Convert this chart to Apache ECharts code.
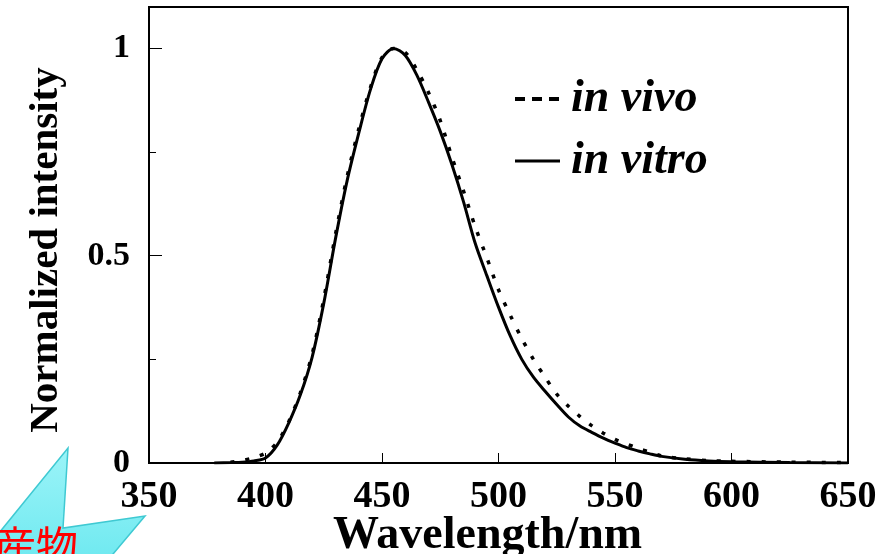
<!DOCTYPE html>
<html>
<head>
<meta charset="utf-8">
<title>Normalized intensity</title>
<script src="https://cdn.jsdelivr.net/npm/echarts@6/dist/echarts.min.js"></script>
<style>
  html, body { margin: 0; padding: 0; background: #fff; }
  #chart { width: 892px; height: 554px; }
</style>
</head>
<body>
<div id="chart"></div>
<script>
// 波长 (nm)
const wavelength = [378, 385, 390, 395, 400, 405, 410, 415, 420, 425, 430, 435, 440, 445, 450, 455, 460, 465, 470, 475, 480, 485, 490, 495, 500, 505, 510, 515, 520, 525, 530, 535, 540, 545, 550, 555, 560, 565, 570, 580, 590, 600, 625, 650]
// in vitro (实线)
const inVitro = [0, 0.001, 0.002, 0.005, 0.012, 0.043, 0.097, 0.165, 0.255, 0.385, 0.54, 0.68, 0.795, 0.9, 0.975, 1.0, 0.983, 0.935, 0.87, 0.8, 0.72, 0.63, 0.53, 0.452, 0.376, 0.307, 0.25, 0.207, 0.173, 0.141, 0.111, 0.089, 0.074, 0.06, 0.048, 0.037, 0.029, 0.022, 0.016, 0.009, 0.005, 0.003, 0.001, 0]
// in vivo (点线), 从 385nm 开始
const inVivo = [null, 0.002, 0.006, 0.013, 0.024, 0.05, 0.1, 0.17, 0.262, 0.395, 0.55, 0.69, 0.805, 0.905, 0.978, 1.0, 0.99, 0.948, 0.893, 0.826, 0.738, 0.656, 0.57, 0.495, 0.418, 0.357, 0.3, 0.25, 0.207, 0.166, 0.137, 0.112, 0.09, 0.072, 0.057, 0.046, 0.035, 0.026, 0.017, 0.01, 0.006, 0.004, 0.002, 0.001]
const xTicks = [350, 400, 450, 500, 550, 600, 650]
const yTicks = [0, 0.5, 1]
const seriesNames = ['in vivo', 'in vitro']

const serif = 'Liberation Serif'
const chartInstance = echarts.init(document.querySelector('#chart'))

const pairs = (ys) => wavelength.map((x, i) => [x, ys[i]])
// 图例里不画圆点
const noDot = { color: 'rgba(0,0,0,0)', borderWidth: 0, opacity: 0 }

const option = {
  animation: false,
  backgroundColor: '#fff',
  grid: {
    left: 149,
    right: 44,
    top: 7,
    bottom: 91,
    outerBoundsMode: 'none',
    containLabel: false,
    show: true,
    borderColor: '#000',
    borderWidth: 2
  },
  legend: {
    orient: 'vertical',
    left: 508,
    top: 71,
    itemWidth: 45,
    itemHeight: 14,
    itemGap: 16,
    data: [
      { name: seriesNames[0], itemStyle: noDot, lineStyle: { type: [10, 7], width: 4 } },
      { name: seriesNames[1], itemStyle: noDot, lineStyle: { width: 3 } }
    ],
    textStyle: {
      fontFamily: serif,
      fontStyle: 'italic',
      fontWeight: 'bold',
      fontSize: 46,
      color: '#000',
      padding: [0, 0, 0, 6]
    }
  },
  xAxis: {
    type: 'value',
    min: xTicks[0],
    max: xTicks[xTicks.length - 1],
    interval: 50,
    name: 'Wavelength/nm',
    nameLocation: 'middle',
    nameGap: 50,
    nameMoveOverlap: false,
    nameTextStyle: {
      fontFamily: serif,
      fontWeight: 'bold',
      fontSize: 46,
      color: '#000',
      padding: [0, 22, 0, 0]
    },
    axisLine: { lineStyle: { color: '#000', width: 2 } },
    axisTick: { inside: true, length: 10, lineStyle: { color: '#000', width: 1 } },
    axisLabel: {
      margin: 15,
      fontFamily: serif,
      fontWeight: 'bold',
      fontSize: 38,
      color: '#000'
    },
    splitLine: { show: false }
  },
  yAxis: [
    {
      type: 'value',
      min: 0,
      max: 1.1,
      interval: 0.5,
      name: 'Normalized intensity',
      nameLocation: 'middle',
      nameGap: 82,
      nameRotate: 90,
      nameMoveOverlap: false,
      nameTextStyle: {
        fontFamily: serif,
        fontWeight: 'bold',
        fontSize: 41,
        color: '#000',
        padding: [0, 30, 0, 0]
      },
      axisLine: { show: true, lineStyle: { color: '#000', width: 2 } },
      axisTick: { show: true, inside: true, length: 13, lineStyle: { color: '#000', width: 1 } },
      axisLabel: {
        margin: 19,
        showMaxLabel: false,
        fontFamily: serif,
        fontWeight: 'bold',
        fontSize: 34,
        color: '#000',
        formatter: (v) => (yTicks.indexOf(v) >= 0 ? String(v) : '')
      },
      splitLine: { show: false }
    },
    {
      // 次刻度
      type: 'value',
      position: 'left',
      min: 0,
      max: 1.1,
      interval: 0.25,
      axisLine: { show: false },
      axisTick: { show: true, inside: true, length: 7, lineStyle: { color: '#000', width: 1 } },
      axisLabel: { show: false },
      splitLine: { show: false }
    }
  ],
  series: [
    {
      name: seriesNames[0],
      type: 'line',
      data: pairs(inVivo),
      smooth: 0.3,
      showSymbol: false,
      symbol: 'none',
      lineStyle: { color: '#000', width: 3.5, type: [4, 11], cap: 'butt' },
      itemStyle: { color: '#000' }
    },
    {
      name: seriesNames[1],
      type: 'line',
      data: pairs(inVitro),
      smooth: 0.3,
      showSymbol: false,
      symbol: 'none',
      lineStyle: { color: '#000', width: 3 },
      itemStyle: { color: '#000' }
    }
  ],
  graphic: [
    {
      // 左下角的爆炸形标注
      type: 'polygon',
      z: 100,
      shape: {
        points: [[-10, 544], [68, 448], [63, 528], [145, 516], [108, 560], [-10, 560]]
      },
      style: {
        fill: new echarts.graphic.LinearGradient(0, 0, 0, 1, [
          { offset: 0, color: '#9cf4f8' },
          { offset: 1, color: '#6fe9f0' }
        ]),
        stroke: '#3fc9d2',
        lineWidth: 1.5
      }
    },
    {
      type: 'text',
      z: 101,
      left: -6,
      top: 525,
      style: {
        text: '産物',
        fill: '#ff0000',
        font: '42px "Noto Sans CJK JP"'
      }
    }
  ]
}
chartInstance.setOption(option)
</script>
</body>
</html>
